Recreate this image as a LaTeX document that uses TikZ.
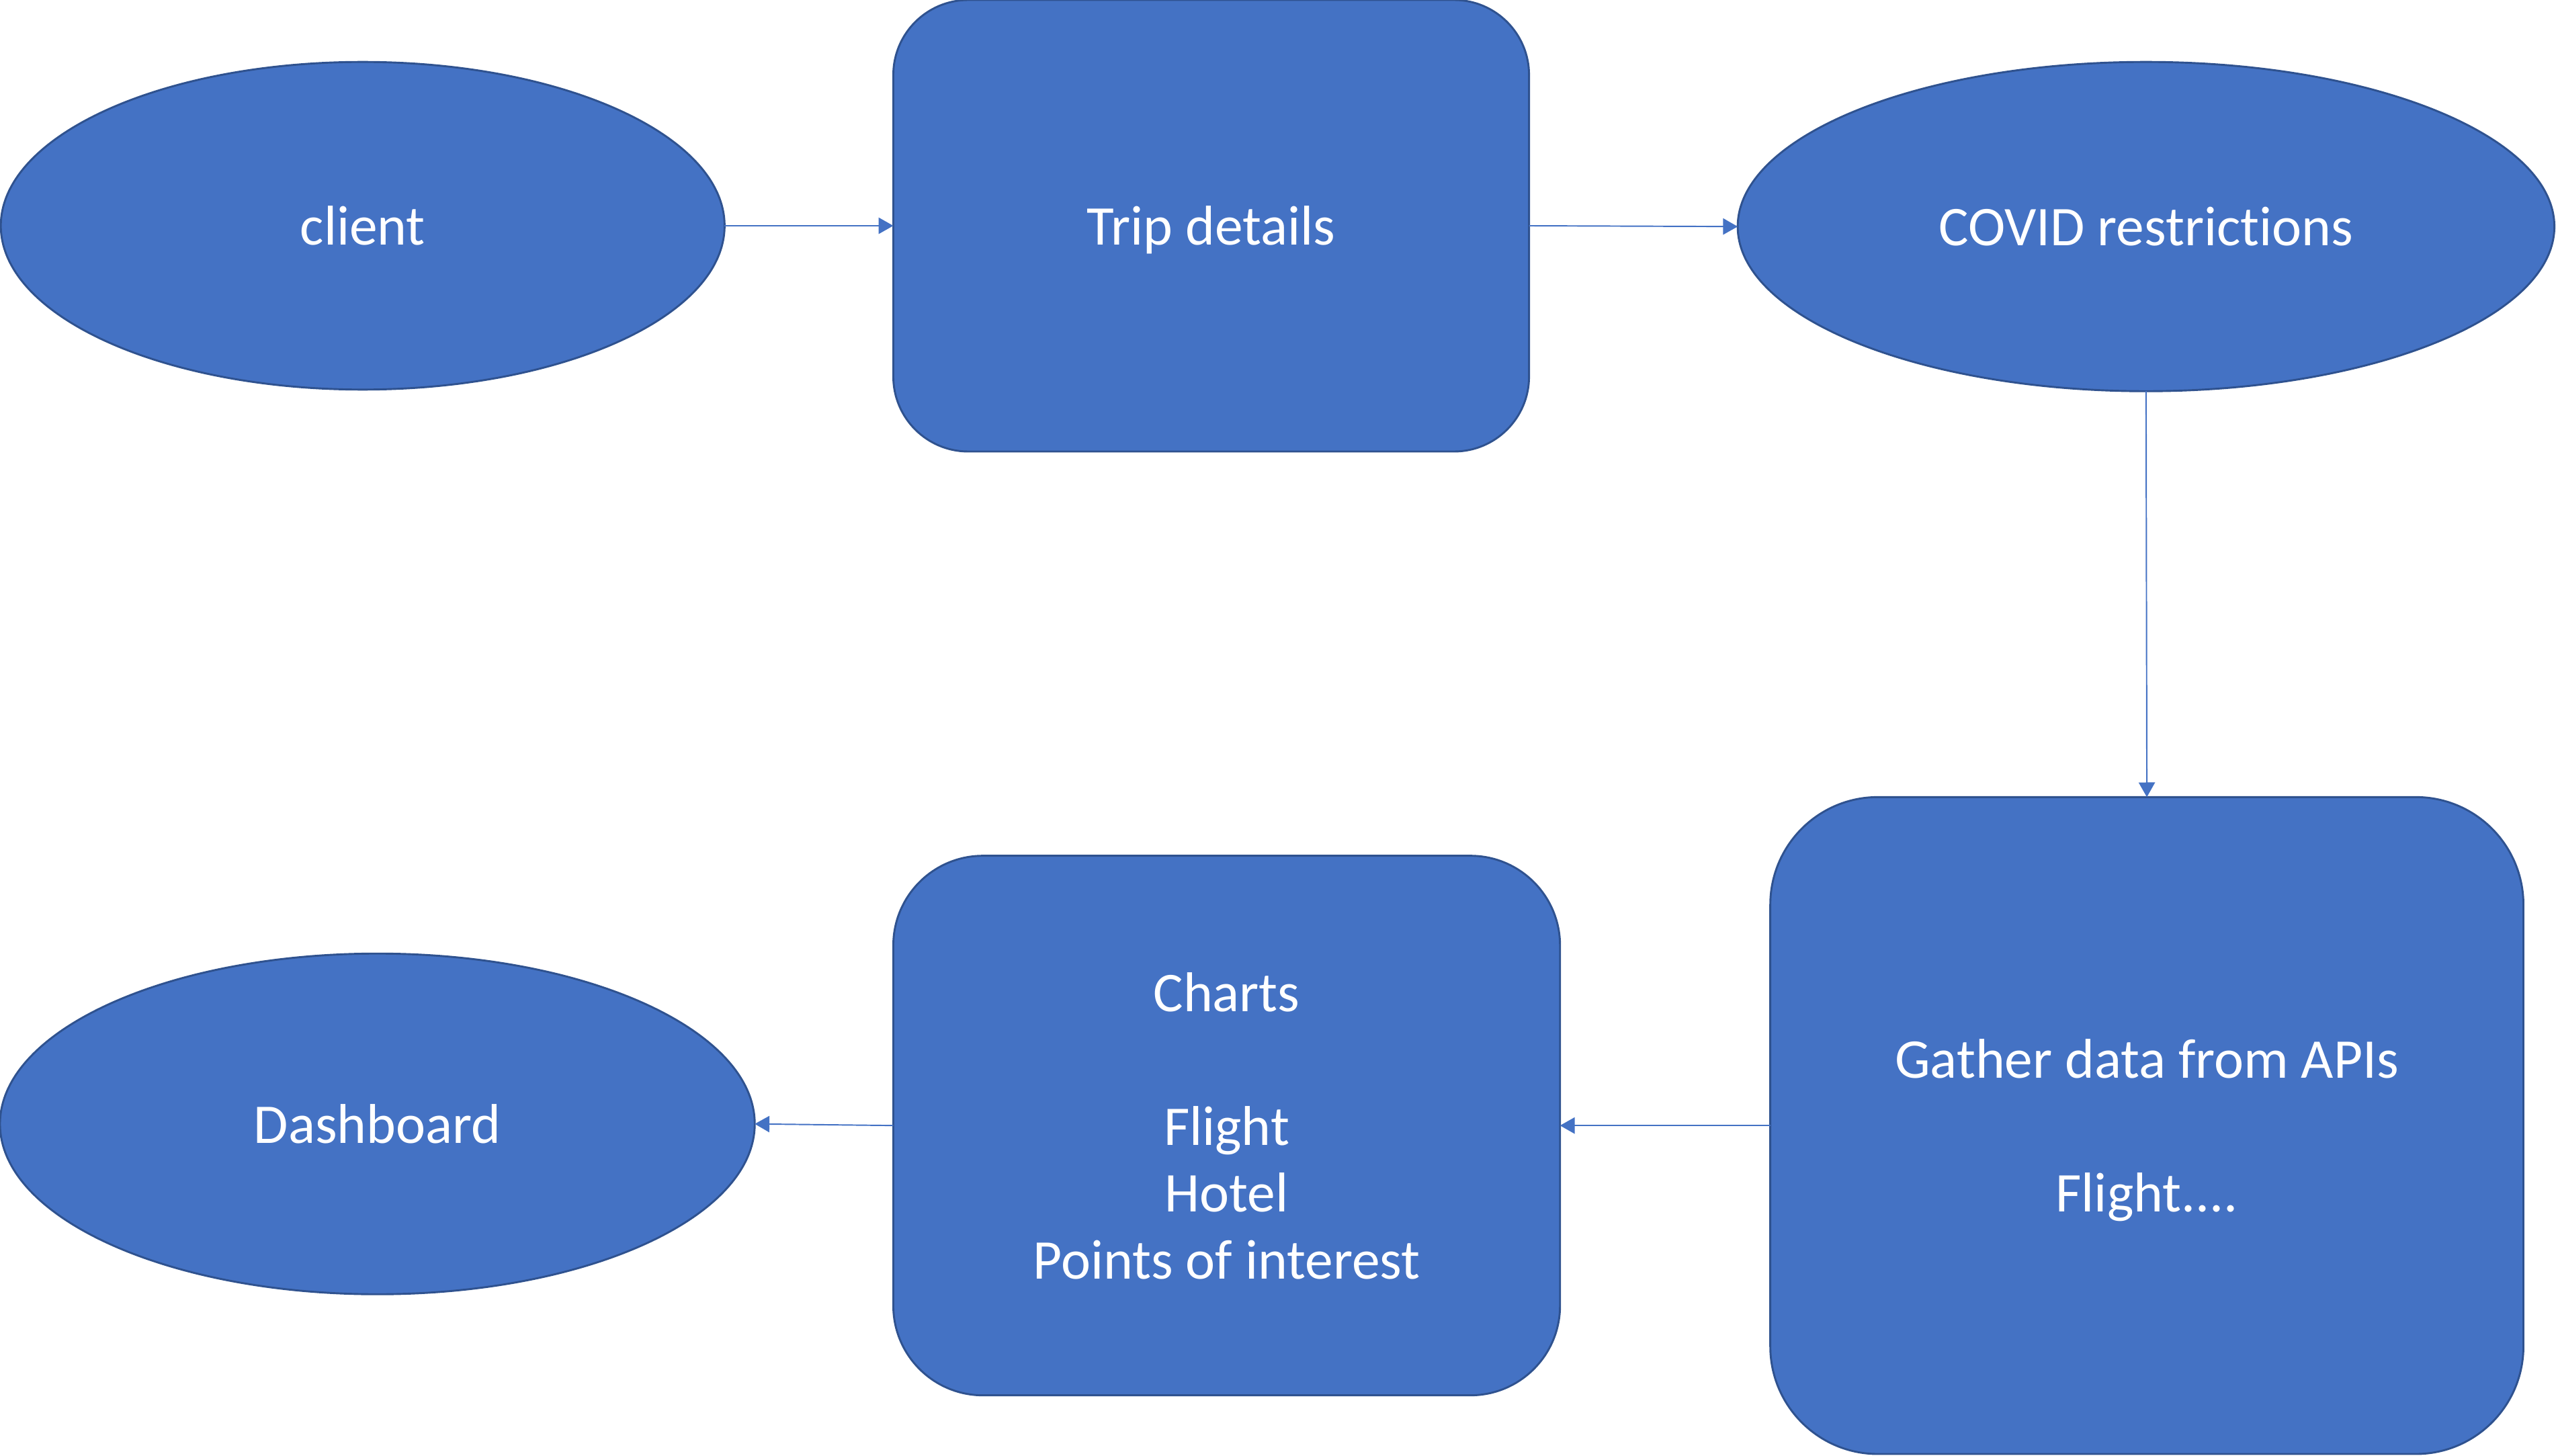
\documentclass[tikz,border=0pt]{standalone}
\usepackage{fontspec}
\setmainfont{Carlito}[Ligatures=NoCommon]
\usetikzlibrary{shapes.geometric,arrows.meta}
\definecolor{fillblue}{HTML}{4472C4}
\definecolor{edgeblue}{HTML}{2F528F}
\tikzset{
  shapebase/.style={fill=fillblue, draw=edgeblue, line width=0.6pt, text=white, inner sep=0pt, outer sep=0pt,
    font=\fontsize{17.2}{20.5}\selectfont, align=center, text depth=0pt},
  oval/.style={shapebase, ellipse},
  rbox/.style={shapebase, rectangle},
  conn/.style={draw=fillblue, line width=0.4pt, -{Triangle[length=4.5pt,width=5pt]}},
}
\begin{document}
\begin{tikzpicture}[x=0.5pt,y=-0.5pt]
\useasboundingbox (0,0) rectangle (1568,893);
\node[oval, minimum width=222pt, minimum height=100.5pt] (client) at (222.5,138.5) {client};
\node[rbox, minimum width=195pt, minimum height=138.5pt, rounded corners=23pt] (trip) at (743,138.5) {Trip details};
\node[oval, minimum width=250.5pt, minimum height=101pt] (covid) at (1316.5,139) {COVID restrictions};
\node[rbox, minimum width=231pt, minimum height=201.5pt, rounded corners=33pt] (gather) at (1317,690.5) {Gather data from APIs\\[20.5pt]Flight....};
\node[rbox, minimum width=204.5pt, minimum height=165.5pt, rounded corners=27.5pt] (charts) at (752.5,690.5) {Charts\\[20.5pt]Flight\\Hotel\\Points of interest};
\node[oval, minimum width=231.5pt, minimum height=104.5pt] (dash) at (231.5,689.5) {Dashboard};
\draw[conn] (client.east) -- (trip.west);
\draw[conn] (trip.east) -- (covid.west);
\draw[conn] (covid.south) -- (gather.north);
\draw[conn] (gather.west) -- (charts.east);
\draw[conn] (charts.west) -- (dash.east);
\end{tikzpicture}
\end{document}
